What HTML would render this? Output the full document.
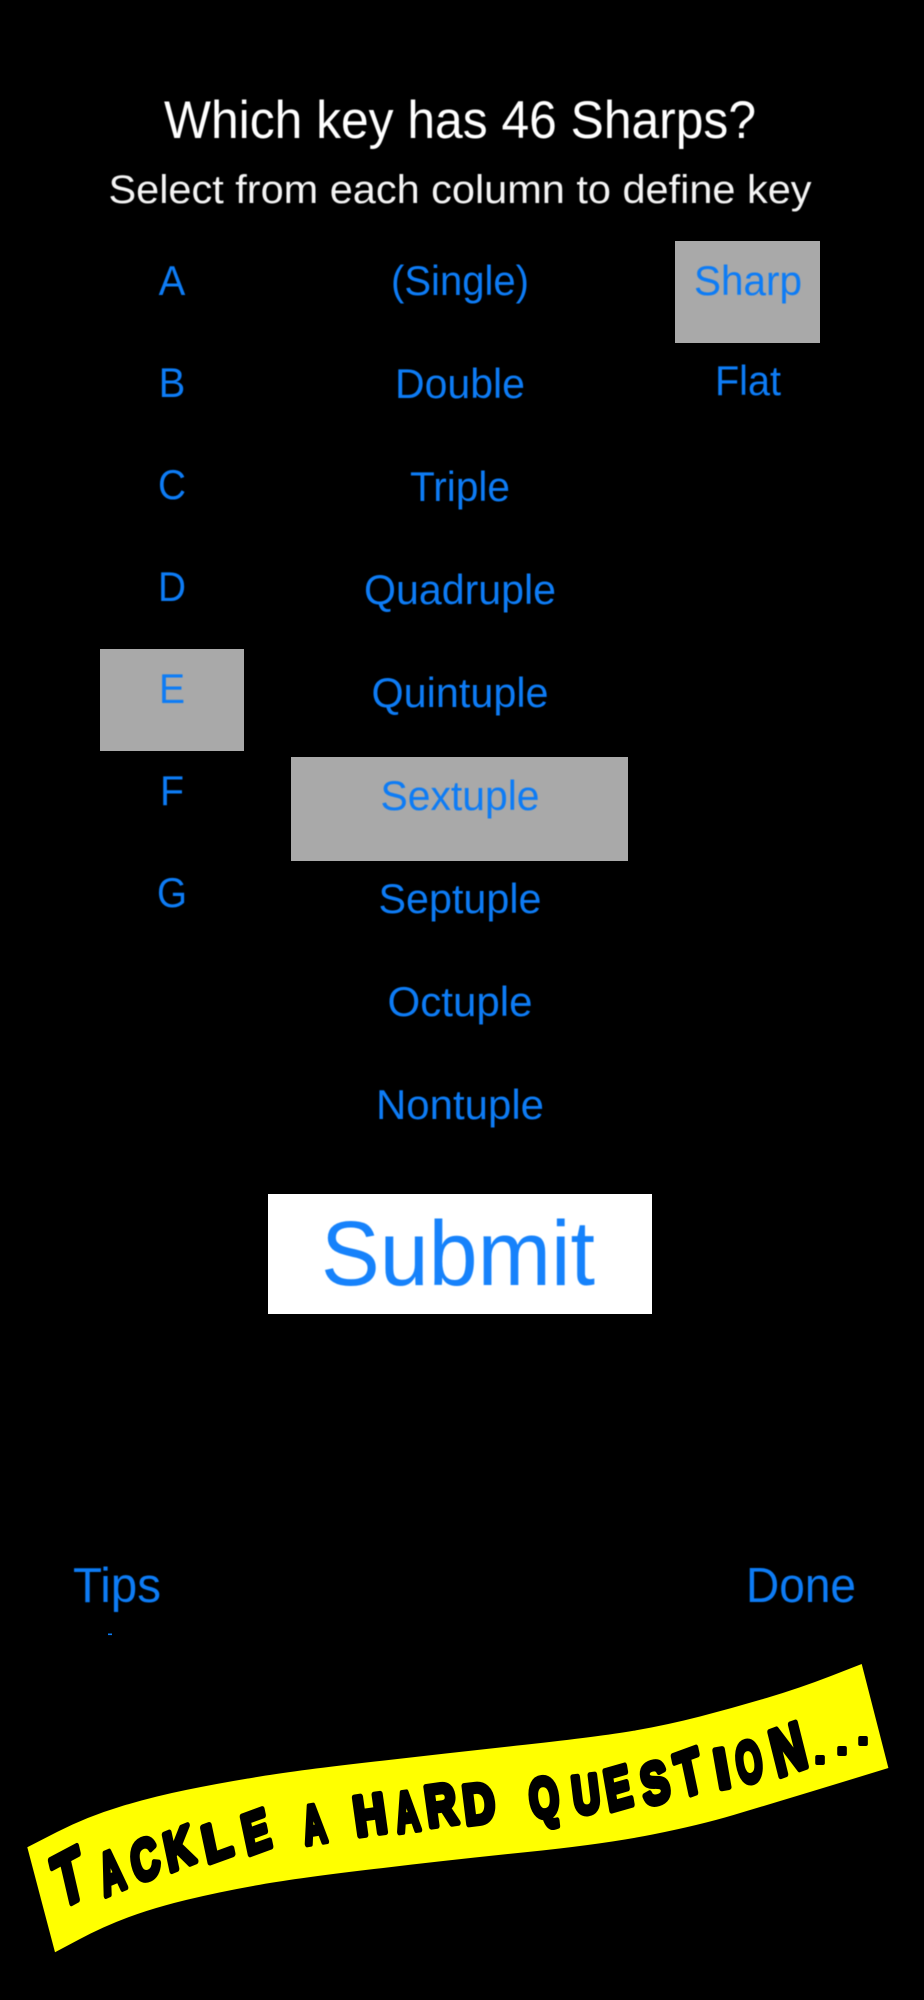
<!DOCTYPE html>
<html>
<head>
<meta charset="utf-8">
<style>
html,body{margin:0;padding:0;background:#000;width:924px;height:2000px;overflow:hidden}
svg{display:block}
.t{font-family:"Liberation Sans",sans-serif;text-anchor:middle}
.b{fill:#0a7bf5;font-size:42px;filter:url(#s)}
.y{font-family:"Liberation Sans",sans-serif;font-weight:700;text-anchor:middle;fill:#000;stroke:#000;stroke-width:6px;stroke-linejoin:round}
</style>
</head>
<body>
<svg width="924" height="2000" viewBox="0 0 924 2000" xmlns="http://www.w3.org/2000/svg">
<defs><filter id="s" x="-5%" y="-10%" width="110%" height="120%"><feGaussianBlur stdDeviation="0.5"/></filter></defs>
<rect width="924" height="2000" fill="#000"/>

<text class="t" x="460" y="138" font-size="53" fill="#fff" textLength="592" lengthAdjust="spacingAndGlyphs" filter="url(#s)">Which key has 46 Sharps?</text>
<text class="t" x="460" y="203" font-size="40" fill="#f4f4f4" textLength="703" lengthAdjust="spacingAndGlyphs" filter="url(#s)">Select from each column to define key</text>

<rect x="675" y="241" width="145" height="102" fill="#a9a9a9"/>
<rect x="100" y="649" width="144" height="102" fill="#a9a9a9"/>
<rect x="291" y="757" width="337" height="104" fill="#a9a9a9"/>

<text class="t b" x="172" y="295" textLength="26.7" lengthAdjust="spacingAndGlyphs">A</text>
<text class="t b" x="172" y="397" textLength="26.7" lengthAdjust="spacingAndGlyphs">B</text>
<text class="t b" x="172" y="499" textLength="28" lengthAdjust="spacingAndGlyphs">C</text>
<text class="t b" x="172" y="601" textLength="28" lengthAdjust="spacingAndGlyphs">D</text>
<text class="t b" x="172" y="703" textLength="26" lengthAdjust="spacingAndGlyphs">E</text>
<text class="t b" x="172" y="805" textLength="24" lengthAdjust="spacingAndGlyphs">F</text>
<text class="t b" x="172" y="907" textLength="30" lengthAdjust="spacingAndGlyphs">G</text>

<text class="t b" x="460" y="295" textLength="138" lengthAdjust="spacingAndGlyphs">(Single)</text>
<text class="t b" x="460" y="398" textLength="130" lengthAdjust="spacingAndGlyphs">Double</text>
<text class="t b" x="460" y="501" textLength="100" lengthAdjust="spacingAndGlyphs">Triple</text>
<text class="t b" x="460" y="604" textLength="192" lengthAdjust="spacingAndGlyphs">Quadruple</text>
<text class="t b" x="460" y="707" textLength="177" lengthAdjust="spacingAndGlyphs">Quintuple</text>
<text class="t b" x="460" y="810" textLength="159" lengthAdjust="spacingAndGlyphs">Sextuple</text>
<text class="t b" x="460" y="913" textLength="163" lengthAdjust="spacingAndGlyphs">Septuple</text>
<text class="t b" x="460" y="1016" textLength="145" lengthAdjust="spacingAndGlyphs">Octuple</text>
<text class="t b" x="460" y="1119" textLength="168" lengthAdjust="spacingAndGlyphs">Nontuple</text>

<text class="t b" x="748" y="295" textLength="108" lengthAdjust="spacingAndGlyphs">Sharp</text>
<text class="t b" x="748" y="395" textLength="66" lengthAdjust="spacingAndGlyphs">Flat</text>

<rect x="268" y="1194" width="384" height="120" fill="#fff"/>
<text class="t" x="458" y="1285" font-size="92" fill="#1482fb" textLength="274" lengthAdjust="spacingAndGlyphs" filter="url(#s)">Submit</text>

<text class="t b" x="117" y="1602" style="font-size:49px" textLength="88" lengthAdjust="spacingAndGlyphs">Tips</text>
<text class="t b" x="801" y="1602" style="font-size:49px" textLength="110" lengthAdjust="spacingAndGlyphs">Done</text>
<rect x="108" y="1633.5" width="4" height="1.6" fill="#0a7bf5"/>

<path d="M27.3,1847.3 L57,1832 Q86.7,1816.7 119.9,1806.7 Q153,1796.7 186.5,1789.9 Q220,1783 260,1776.5 Q300,1770 375,1761.5 Q450,1753 525,1744.8 Q600,1736.5 633.5,1730.8 Q667,1725 700,1716.5 Q733,1708 766.5,1698 Q800,1688 830.9,1676 L861.7,1664 L888.4,1768 L860.7,1776.5 Q833,1785 800,1795 Q767,1805 733.5,1815 Q700,1825 652.5,1834.5 Q605,1844 527.5,1852 Q450,1860 375,1868.9 Q300,1877.7 260,1884.7 Q220,1891.7 186.5,1899.9 Q153,1908 128,1917.4 Q103,1926.7 79,1939.5 L55,1952.3 Z" fill="#ffff00"/>

<g>
<text class="y" transform="translate(69,1877) rotate(-13) skewY(-15) scale(.7,1)" y="25" font-size="72">T</text>
<text class="y" transform="translate(111.5,1872) rotate(-13) skewY(-10) scale(.58,1)" y="20" font-size="58">A</text>
<text class="y" transform="translate(145,1860) rotate(-13) skewY(-12) scale(.7,1)" y="19" font-size="56">C</text>
<text class="y" transform="translate(179,1848) rotate(-12) skewY(-10) scale(.75,1)" y="19" font-size="54">K</text>
<text class="y" transform="translate(217,1841) rotate(-12) skewY(-8) scale(.9,1)" y="18" font-size="52">L</text>
<text class="y" transform="translate(256,1832) rotate(-12) skewY(-8) scale(.72,1)" y="19" font-size="56">E</text>
<text class="y" transform="translate(314,1824) rotate(-9) scale(.58,1)" y="19" font-size="54">A</text>
<text class="y" transform="translate(370,1815) rotate(-8) scale(.8,1)" y="19" font-size="56">H</text>
<text class="y" transform="translate(407,1812) rotate(-8) scale(.58,1)" y="19" font-size="56">A</text>
<text class="y" transform="translate(441,1805) rotate(-8) scale(.75,1)" y="20" font-size="58">R</text>
<text class="y" transform="translate(479,1804) rotate(-7) scale(.78,1)" y="19" font-size="56">D</text>
<text class="y" transform="translate(544,1798) rotate(-7) scale(.68,1)" y="19" font-size="56">Q</text>
<text class="y" transform="translate(586,1794) rotate(-7) scale(.7,1)" y="19" font-size="54">U</text>
<text class="y" transform="translate(618,1788) rotate(-10) skewY(-6) scale(.68,1)" y="20" font-size="58">E</text>
<text class="y" transform="translate(655,1783) rotate(-11) skewY(-6) scale(.72,1)" y="20" font-size="58">S</text>
<text class="y" transform="translate(689,1773) rotate(-12) skewY(-8) scale(.68,1)" y="21" font-size="62">T</text>
<text class="y" transform="translate(722,1769) rotate(-10) scale(.9,1)" y="19" font-size="56">I</text>
<text class="y" transform="translate(749,1762) rotate(-10) skewY(-4) scale(.58,1)" y="20" font-size="58">O</text>
<text class="y" transform="translate(788,1749) rotate(-14) skewY(-6) scale(.72,1)" y="23" font-size="66">N</text>
<text class="y" style="stroke-width:4px" transform="translate(820,1760)" y="3" font-size="40">.</text>
<text class="y" style="stroke-width:4px" transform="translate(842,1751)" y="3" font-size="40">.</text>
<text class="y" style="stroke-width:4px" transform="translate(863,1741)" y="3" font-size="40">.</text>
</g>
</svg>
</body>
</html>
